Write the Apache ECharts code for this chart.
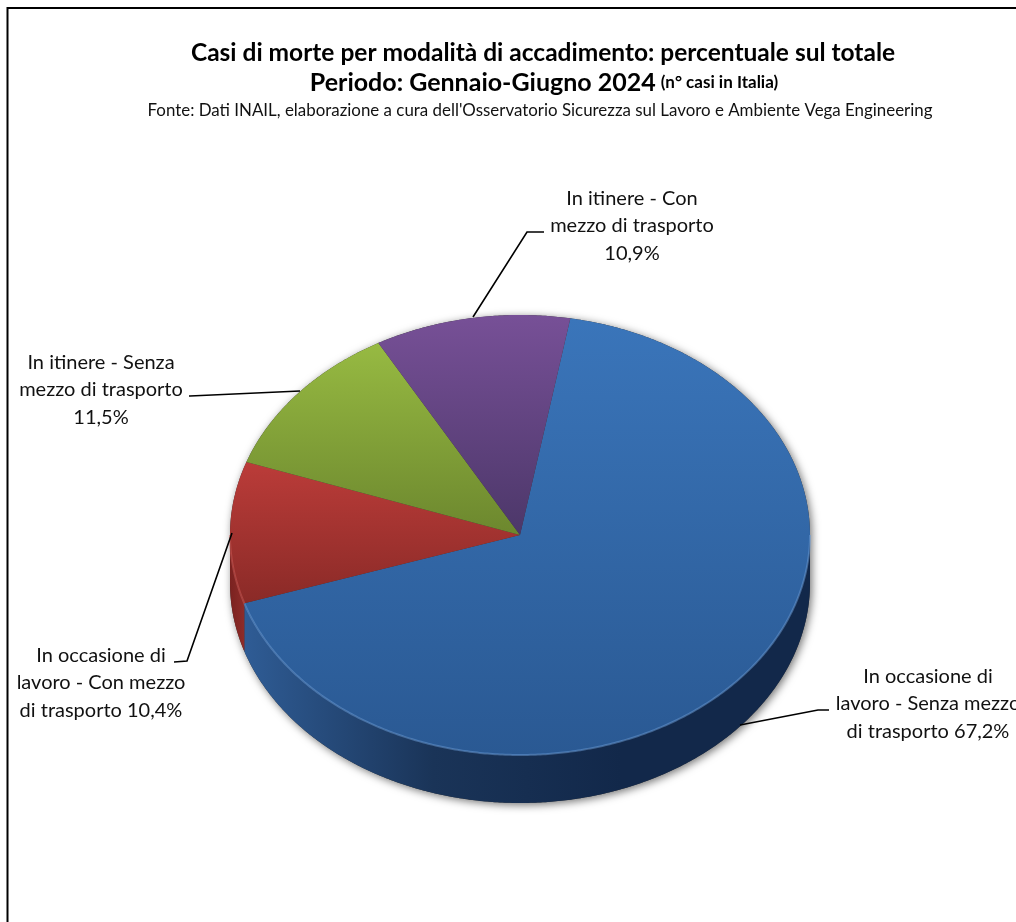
<!DOCTYPE html>
<html><head><meta charset="utf-8">
<style>html,body{margin:0;padding:0;background:#fff}#c{width:1016px;height:922px}</style>
<script src="https://cdn.jsdelivr.net/npm/echarts@6/dist/echarts.min.js"></script>
</head><body><div id="c"></div>
<script>
var categories = [
  "In occasione di\nlavoro - Senza mezzo\ndi trasporto",
  "In occasione di\nlavoro - Con mezzo\ndi trasporto",
  "In itinere - Senza\nmezzo di trasporto",
  "In itinere - Con\nmezzo di trasporto"
];
var values = [67.2, 10.4, 11.5, 10.9];
var valueLabels = ["67,2%", "10,4%", "11,5%", "10,9%"];
var labelJoin = [" ", " ", "\n", "\n"];

var FONT = 'Lato, "Noto Sans", sans-serif';
var topColors = [["#3A75BA","#2A5993"],["#BB3C39","#8A2A27"],["#97BA42","#6C872E"],["#775097","#4C3769"]];
var rimColors = ["#6A9BD8","#CF5A56","#A9C95C","#8A67AA"];
var wallColors = [["#2F5C95","#1A3458","#12284A","#12284A"],["#7A2220","#8E2C29"],["#6C872E","#6C872E"],["#4C3769","#4C3769"]];
var labelPos = [[928,704],[101,683],[101,390],[632,226]];
var leaders = [
  [[740,725],[818,710],[829,710]],
  [[232,533],[187,661],[174,662]],
  [[300,391],[190,396],[189,396]],
  [[473,317],[527,232],[544,232]]
];
var CX=520, CY=535, RX=290, RY=220, DEPTH=48, START=10;

var total = values.reduce(function(a,b){return a+b;},0);
function range(i){
  var s=START;
  for(var k=0;k<i;k++) s+=values[k]/total*360;
  return [s, s+values[i]/total*360];
}
function pt(a,dy){
  var r=a*Math.PI/180;
  return [CX+RX*Math.sin(r), CY-RY*Math.cos(r)+(dy||0)];
}
function arc(a0,a1,dy){
  var out=[], n=Math.max(2,Math.ceil(Math.abs(a1-a0)*2));
  for(var i=0;i<=n;i++) out.push(pt(a0+(a1-a0)*i/n,dy));
  return out;
}
function stops(c){
  return c.map(function(col,i){return {offset:i/(c.length-1),color:col};});
}
function wallRange(i){
  var r=range(i);
  var a0=Math.max(r[0],90), a1=Math.min(r[1],270);
  return a1>a0?[a0,a1]:null;
}

var chart = echarts.init(document.getElementById('c'),null,{renderer:'canvas'});
chart.setOption({
  animation:false,
  backgroundColor:'#fff',
  title:[
    {text:"Casi di morte per modalità di accadimento: percentuale sul totale",left:538,top:36,textAlign:'center',
     textStyle:{fontFamily:FONT,fontSize:24.5,fontWeight:'bold',color:'#000'}},
    {text:"{a|Periodo: Gennaio-Giugno 2024} {b|(n° casi in Italia)}",left:539,top:65,textAlign:'center',
     textStyle:{rich:{a:{fontFamily:FONT,fontSize:25,fontWeight:'bold',color:'#000'},b:{fontFamily:FONT,fontSize:17,fontWeight:'bold',color:'#000'}}}},
    {text:"Fonte: Dati INAIL, elaborazione a cura dell'Osservatorio Sicurezza sul Lavoro e Ambiente Vega Engineering",left:535,top:97,textAlign:'center',
     textStyle:{fontFamily:FONT,fontSize:16.9,fontWeight:'normal',color:'#111'}}
  ],
  graphic:[{type:'polyline',shape:{points:[[7.5,922],[7.5,8],[1016,8]]},style:{stroke:'#000',lineWidth:2,fill:null},silent:true}],
  series:[
    {type:'custom',coordinateSystem:'none',silent:true,z:1,data:[1],
     renderItem:function(){
       var pts=arc(90,270,DEPTH).concat(arc(270,450,0));
       return {type:'polygon',shape:{points:pts},style:{fill:'#333',shadowBlur:9,shadowColor:'rgba(0,0,0,0.55)',shadowOffsetX:2,shadowOffsetY:2}};
     }},
    {type:'custom',coordinateSystem:'none',silent:true,z:2,data:values,
     renderItem:function(p){
       var w=wallRange(p.dataIndex);
       if(!w) return {type:'group',children:[]};
       var pts=arc(w[0],w[1],0).concat(arc(w[1],w[0],DEPTH));
       var c=wallColors[p.dataIndex];
       return {type:'polygon',shape:{points:pts},style:{fill:{type:'linear',x:0,y:0,x2:1,y2:0,colorStops:stops(c)}}};
     }},
    {type:'custom',coordinateSystem:'none',silent:true,z:3,data:values,
     renderItem:function(p){
       var i=p.dataIndex,r=range(i);
       var a=arc(r[0],r[1],0);
       var kids=[
         {type:'polygon',shape:{points:[[CX,CY]].concat(a)},
          style:{fill:{type:'linear',x:0,y:0,x2:0,y2:1,colorStops:stops(topColors[i])}}}
       ];
       var w=wallRange(i);
       if(w) kids.push({type:'polyline',shape:{points:arc(w[0],w[1],0)},style:{stroke:rimColors[i],lineWidth:2,opacity:0.5,fill:null}});
       return {type:'group',children:kids};
     }},
    {type:'custom',coordinateSystem:'none',silent:true,z:4,data:values,
     renderItem:function(p){
       var i=p.dataIndex;
       return {type:'group',children:[
         {type:'polyline',shape:{points:leaders[i]},style:{stroke:'#000',lineWidth:1.6,fill:null}},
         {type:'text',x:labelPos[i][0],y:labelPos[i][1],
          style:{text:categories[i]+labelJoin[i]+valueLabels[i],fontFamily:FONT,fontSize:20,lineHeight:27.5,
                 fill:'#111',align:'center',verticalAlign:'middle'}}
       ]};
     }}
  ]
});
</script></body></html>
